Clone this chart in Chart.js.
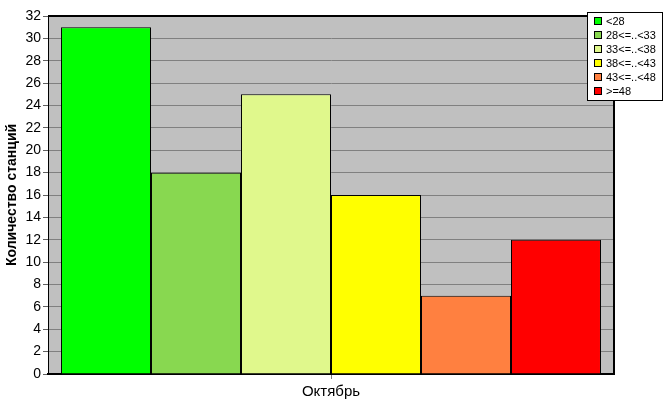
<!DOCTYPE html>
<html>
<head>
<meta charset="UTF-8">
<title>Количество станций</title>
<script src="https://cdn.jsdelivr.net/npm/chart.js@4.4.1/dist/chart.umd.min.js"></script>
<style>
  html, body { margin: 0; padding: 0; background: #fff; }
  #wrap { width: 667px; height: 415px; }
</style>
</head>
<body>
<div id="wrap"><canvas id="myChart" width="667" height="415"></canvas></div>
<script>
    // данные
    const categories = ["Октябрь"];
    const seriesNames = ["<28", "28<=..<33", "33<=..<38", "38<=..<43", "43<=..<48", ">=48"];
    const seriesValues = [31, 18, 25, 16, 7, 12];
    const seriesColors = ["#00FF00", "#88D850", "#E0F88C", "#FFFF00", "#FF8040", "#FF0000"];
    const yTicks = [0, 2, 4, 6, 8, 10, 12, 14, 16, 18, 20, 22, 24, 26, 28, 30, 32];

    const FONT = "'Liberation Sans', Arial, sans-serif";

    // серый фон и рамка области графика
    const plotFrame = {
        id: 'plotFrame',
        beforeDraw(chart) {
            const a = chart.chartArea, c = chart.ctx;
            c.save();
            c.fillStyle = '#C0C0C0';
            c.fillRect(a.left, a.top, a.right - a.left, a.bottom - a.top);
            c.restore();
        },
        afterDatasetsDraw(chart) {
            const a = chart.chartArea, c = chart.ctx;
            c.save();
            c.strokeStyle = '#000';
            c.lineWidth = 2;
            c.beginPath();
            c.moveTo(a.left, a.top);
            c.lineTo(a.right, a.top);
            c.lineTo(a.right, a.bottom);
            c.stroke();
            c.restore();
        }
    };

    // легенда в рамке справа сверху
    const boxLegend = {
        id: 'boxLegend',
        afterDraw(chart) {
            const c = chart.ctx;
            c.save();
            c.fillStyle = '#fff';
            c.fillRect(587, 12, 75, 88);
            c.strokeStyle = '#000';
            c.lineWidth = 1;
            c.strokeRect(587.5, 12.5, 75, 88);
            c.font = '11px ' + FONT;
            c.textBaseline = 'middle';
            chart.data.datasets.forEach(function (ds, i) {
                const y = 20.5 + i * 14.1;
                c.fillStyle = ds.backgroundColor;
                c.fillRect(594, Math.round(y) - 4, 7, 7);
                c.strokeStyle = '#000';
                c.strokeRect(594.5, Math.round(y) - 3.5, 7, 7);
                c.fillStyle = '#000';
                c.fillText(ds.label, 606, y + 1);
            });
            c.restore();
        }
    };

    const ctx = document.getElementById('myChart').getContext('2d');
    const myChart = new Chart(ctx, {
        type: 'bar',
        data: {
            labels: categories,
            datasets: seriesNames.map(function (name, i) {
                return {
                    label: name,
                    data: [seriesValues[i]],
                    backgroundColor: seriesColors[i],
                    borderColor: '#000',
                    borderWidth: 1,
                    borderSkipped: 'bottom'
                };
            })
        },
        options: {
            responsive: false,
            animation: false,
            devicePixelRatio: 1,
            layout: { padding: { left: 0, right: 53, top: 16, bottom: 0 } },
            datasets: { bar: { barPercentage: 1, categoryPercentage: 0.954 } },
            plugins: {
                legend: { display: false },
                tooltip: { enabled: false }
            },
            scales: {
                x: {
                    afterFit(scale) { scale.height = 41; },
                    grid: {
                        offset: false,
                        drawOnChartArea: false,
                        color: '#808080',
                        tickLength: 5
                    },
                    border: { color: '#000', width: 2 },
                    ticks: {
                        color: '#000',
                        font: { family: FONT, size: 15 },
                        padding: 4
                    }
                },
                y: {
                    min: 0,
                    max: 32,
                    afterFit(scale) { scale.width = 48; },
                    afterBuildTicks(scale) {
                        scale.ticks = yTicks.map(function (v) { return { value: v }; });
                    },
                    grid: {
                        color: '#808080',
                        tickColor: '#606060',
                        tickLength: 5
                    },
                    border: { color: '#000', width: 1 },
                    ticks: {
                        color: '#000',
                        font: { family: FONT, size: 14 },
                        padding: 2
                    },
                    title: {
                        display: true,
                        text: 'Количество станций',
                        color: '#000',
                        font: { family: FONT, size: 14, weight: 'bold' },
                        padding: { top: 4, bottom: 0 }
                    }
                }
            }
        },
        plugins: [plotFrame, boxLegend]
    });
</script>
</body>
</html>
